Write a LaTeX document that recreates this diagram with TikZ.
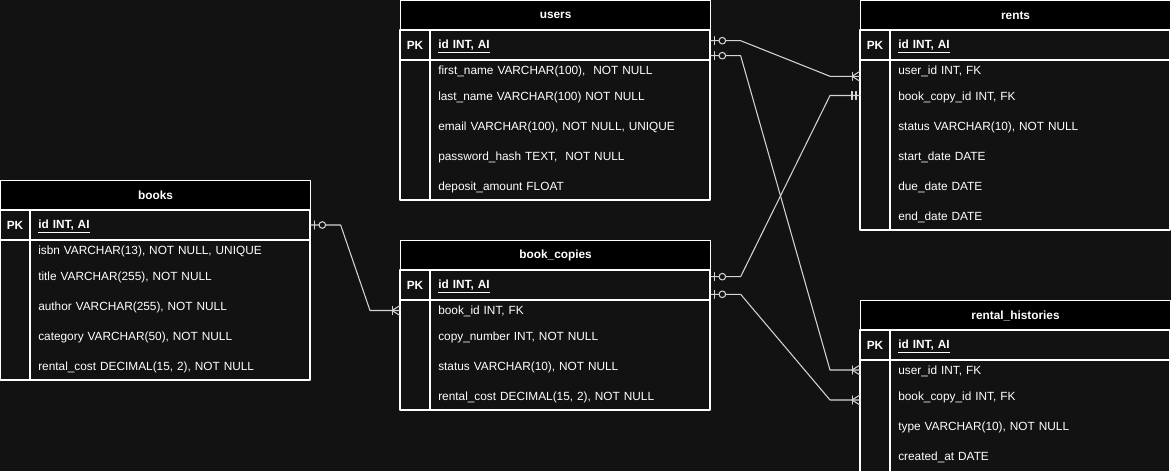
\documentclass[tikz,border=0pt]{standalone}
\usepackage{fontspec}
\setmainfont{Liberation Sans}
\usetikzlibrary{calc}

\definecolor{bg}{HTML}{121212}
\definecolor{edge}{HTML}{D4D4D4}
\newcommand{\tabfont}{\fontsize{8.42}{10.1}\selectfont}

\begin{document}
\begin{tikzpicture}[x=0.025cm, y=-0.025cm, line cap=round, line join=round,
        tabline/.style={draw=white, line width=0.75pt},
        conn/.style={draw=edge, line width=0.75pt},
        hdr/.style={tabline, fill=black, anchor=north west, minimum width=7.75cm,
            minimum height=0.75cm, inner sep=0pt, text=white, font=\tabfont\bfseries},
        pkcell/.style={inner sep=0pt, text=white, font=\tabfont\bfseries},
        field/.style={anchor=west, text width=6.6cm, inner xsep=0.2cm, inner ysep=0pt,
            align=left, text=white, font=\tabfont},
        zeroone/.pic={
            \draw[conn] (4,-4) -- (4,4);
            \draw[conn, fill=bg] (11.7,0) circle[radius=3.3];
        },
        onemany/.pic={
            \draw[conn] (-7.5,-4) -- (-7.5,4);
            \draw[conn] (0,-5) -- (-8,0) -- (0,5);
        },
        mandone/.pic={
            \draw[conn] (-8,-4) -- (-8,4) (-4,-4) -- (-4,4);
        }]
        % canvas: 1 unit = 1 px of the 1171 x 471 frame
        \path[use as bounding box, fill=bg] (0,0) rectangle (1171,471);

        % tables: name / title / top-left corner / total height / fields
        % header 30, key row 30, first field 20, next fields 30 each
        \foreach \t/\title/\x/\y/\h/\fields in {
            users/users/400/0/200/{{first\_name VARCHAR(100),\ \ NOT NULL},{last\_name VARCHAR(100) NOT NULL},{email VARCHAR(100), NOT NULL, UNIQUE},{password\_hash TEXT,\ \ NOT NULL},{deposit\_amount FLOAT}},
            rents/rents/860/0/230/{{user\_id INT, FK},{book\_copy\_id INT, FK},{status VARCHAR(10), NOT NULL},{start\_date DATE},{due\_date DATE},{end\_date DATE}},
            books/books/0/180/200/{{isbn VARCHAR(13), NOT NULL, UNIQUE},{title VARCHAR(255), NOT NULL},{author VARCHAR(255), NOT NULL},{category VARCHAR(50), NOT NULL},{rental\_cost DECIMAL(15, 2), NOT NULL}},
            copies/book\_copies/400/240/170/{{book\_id INT, FK},{copy\_number INT, NOT NULL},{status VARCHAR(10), NOT NULL},{rental\_cost DECIMAL(15, 2), NOT NULL}},
            hist/rental\_histories/860/300/172/{{user\_id INT, FK},{book\_copy\_id INT, FK},{type VARCHAR(10), NOT NULL},{created\_at DATE}}}{
            \node[hdr] (\t) at (\x,\y) {\title};
            \draw[tabline] (\x,\y+30) rectangle (\x+310,\y+\h);
            \draw[tabline] (\x,\y+60) -- (\x+310,\y+60);
            \draw[tabline] (\x+30,\y+30) -- (\x+30,\y+\h);
            \node[pkcell] (\t-pk) at (\x+15,\y+45) {PK};
            \node[field, font=\tabfont\bfseries] (\t-id) at (\x+30,\y+46.5) {\underline{id INT, AI}};
            \foreach \f [count=\i] in \fields {
                \pgfmathsetmacro{\fy}{\y+(\i==1 ? 71.5 : 37+30*\i)}
                \node[field] (\t-\i) at (\x+30,\fy) {\f};
            }
        }

        % relations: key row -> field row (offsets in px), far-end marker
        \foreach \a/\da/\b/\db/\tip in {
            users-id/-5.8/rents-1/4.8/onemany,
            users-id/9.2/hist-1/-1.5/onemany,
            copies-id/-9.8/rents-2/-1.5/mandone,
            copies-id/7.8/hist-2/3/onemany,
            books-id/-1.5/copies-1/-1/onemany}{
            \coordinate (s) at ($(\a.east)+(0,\da)$);
            \coordinate (e) at ($(\b.west)+(-30,\db)$);
            \draw[conn] (s) -- ++(30,0) -- ($(e)+(-30,0)$) -- (e);
            \path (s) pic {zeroone};
            \edef\endpic{\noexpand\path (e) pic {\tip};}\endpic
        }
\end{tikzpicture}
\end{document}
